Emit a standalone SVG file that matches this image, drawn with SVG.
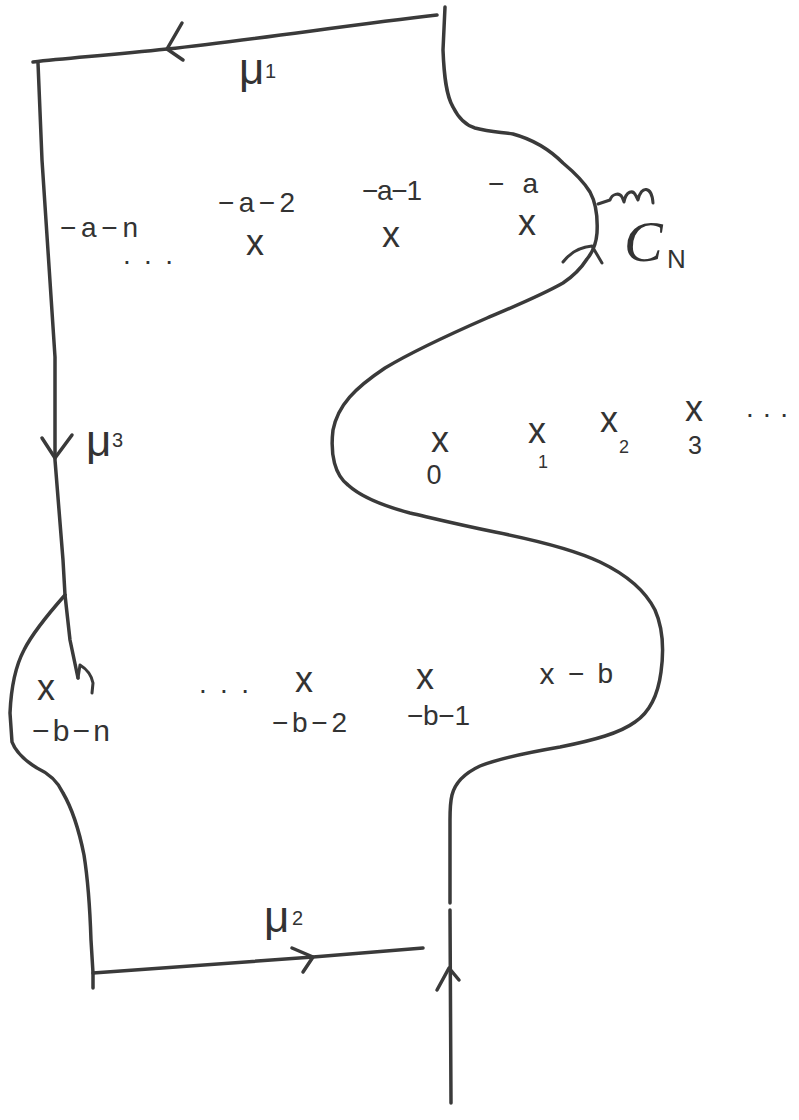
<svg xmlns="http://www.w3.org/2000/svg" width="799" height="1120" viewBox="0 0 799 1120">
<style>
.ln{fill:none;stroke:#3a3a3a;stroke-width:3.5;stroke-linecap:round;stroke-linejoin:round}
.th{fill:none;stroke:#3a3a3a;stroke-width:3;stroke-linecap:round;stroke-linejoin:round}
text{font-family:"Liberation Sans","DejaVu Sans",sans-serif;fill:#333}
.x{font-size:36px;text-anchor:middle}
.lb{font-size:28px}
.mu{font-size:44px}
.sub{font-size:20px}
.dg{text-anchor:middle}
</style>
<rect width="799" height="1120" fill="#fff"/>
<g id="connectors">
  <path id="mu1-line" class="ln" d="M437,15 C350,25 250,40 167,49 C110,55 70,58 33,62"/>
  <path id="mu1-arrow" class="ln" d="M182,23 L167,49 L183,60"/>
  <path id="left-line" class="ln" d="M38,63 L42,160 L55,357 L55,460 L63,560 L65,595 L70,640 L78,678"/>
  <path id="mu3-arrow" class="ln" d="M42,438 L55,458 L72,435"/>
  <path id="left-tick" class="th" d="M78,678 L80,665 C85,668 91,673 93,683 L92,693"/>
  <path id="left-bump" class="ln" d="M65,595 C50,612 33,632 24,650 C15,667 11,690 10,713 L12,742 C15,750 24,760 37,768 C48,773 58,782 63,793 C70,805 78,825 84,855 C88,880 90,910 91,940 L93,973 L93,988"/>
  <path id="mu2-line" class="ln" d="M93,973 L313,957 L423,948"/>
  <path id="mu2-arrow" class="ln" d="M292,948 L313,957 L303,972"/>
  <path id="contour" class="ln" d="M445,7 L443,50 C444,75 446,95 453,107 C458,117 465,125 475,128 C490,132 500,132 513,134 C535,140 550,150 563,163 C575,173 584,182 590,192 C596,203 598,215 597,233 C596,246 592,253 587,259 C580,270 572,277 563,283 C540,296 515,306 487,318 C455,332 415,350 385,368 C355,388 338,405 333,430 C330,455 335,475 348,485 C360,496 380,505 410,513 C440,520 460,525 495,532 C540,541 575,550 600,562 C625,574 645,590 655,610 C663,628 664,650 661,672 C658,695 650,712 635,722 C620,733 595,740 560,747 C525,753 500,758 480,766 C465,773 455,783 452,795 C450,803 450,812 450,820 L450,903"/>
  <path id="ray-lower" class="ln" d="M450,910 L451,1103"/>
  <path id="ray-arrow" class="ln" d="M437,990 L449,968 L459,980"/>
  <path id="cn-arrow" class="th" d="M563,262 C570,253 580,247 592,246 L602,263"/>
  <path id="cn-squiggle" class="th" d="M598,204 L610,200 C612,194 619,192 622,197 L624,202 C626,191 633,189 636,196 L638,200 C641,185 652,186 653,203"/>
</g>
<g id="label-mu1"><text class="mu" x="239" y="84">μ</text><text class="sub" x="265" y="78">1</text></g>
<g id="label-mu3"><text class="mu" x="86" y="456">μ</text><text class="sub" x="112" y="447">3</text></g>
<g id="label-mu2"><text class="mu" x="264" y="932">μ</text><text class="sub" x="292" y="925">2</text></g>
<g id="label-cn"><text x="624" y="261" style="font-family:'Liberation Serif',serif;font-style:italic;font-size:58px">C</text><text x="667" y="268" style="font-size:26px">N</text></g>
<g id="pole-a-n"><text class="lb" x="60" y="237" textLength="78" lengthAdjust="spacing">−a−n</text><text class="lb" x="123" y="264" textLength="50" lengthAdjust="spacing">...</text></g>
<g id="pole-a-2"><text class="lb" x="218" y="212" textLength="77" lengthAdjust="spacing">−a−2</text><text class="x" x="255" y="255">x</text></g>
<g id="pole-a-1"><text class="lb" x="362" y="200" textLength="60" lengthAdjust="spacing">−a−1</text><text class="x" x="391" y="247">x</text></g>
<g id="pole-a"><text class="lb" x="488" y="193" textLength="50" lengthAdjust="spacing">−a</text><text class="x" x="527" y="235">x</text></g>
<g id="pole-0"><text class="x" x="440" y="452">x</text><text class="dg" x="434" y="484" style="font-size:27px">0</text></g>
<g id="pole-1"><text class="x" x="537" y="443">x</text><text class="dg" x="543" y="468" style="font-size:18px">1</text></g>
<g id="pole-2"><text class="x" x="609" y="432">x</text><text class="dg" x="624" y="453" style="font-size:18px">2</text></g>
<g id="pole-3"><text class="x" x="694" y="421">x</text><text class="dg" x="695" y="454" style="font-size:25px">3</text></g>
<g id="dots-right"><text class="lb" x="746" y="417" textLength="42" lengthAdjust="spacing">...</text></g>
<g id="pole-b-n"><text class="x" x="46" y="700">x</text><text class="lb" x="32" y="741" style="font-size:30px" textLength="78" lengthAdjust="spacing">−b−n</text></g>
<g id="dots-bottom"><text class="lb" x="199" y="693" textLength="50" lengthAdjust="spacing">...</text></g>
<g id="pole-b-2"><text class="x" x="304" y="692">x</text><text class="lb" x="272" y="732" textLength="75" lengthAdjust="spacing">−b−2</text></g>
<g id="pole-b-1"><text class="x" x="425" y="689">x</text><text class="lb" x="407" y="725" textLength="63" lengthAdjust="spacing">−b−1</text></g>
<g id="pole-b"><text class="x" x="547" y="684" style="font-size:30px">x</text><text class="lb" x="568" y="683" textLength="45" lengthAdjust="spacing">−b</text></g>
</svg>
